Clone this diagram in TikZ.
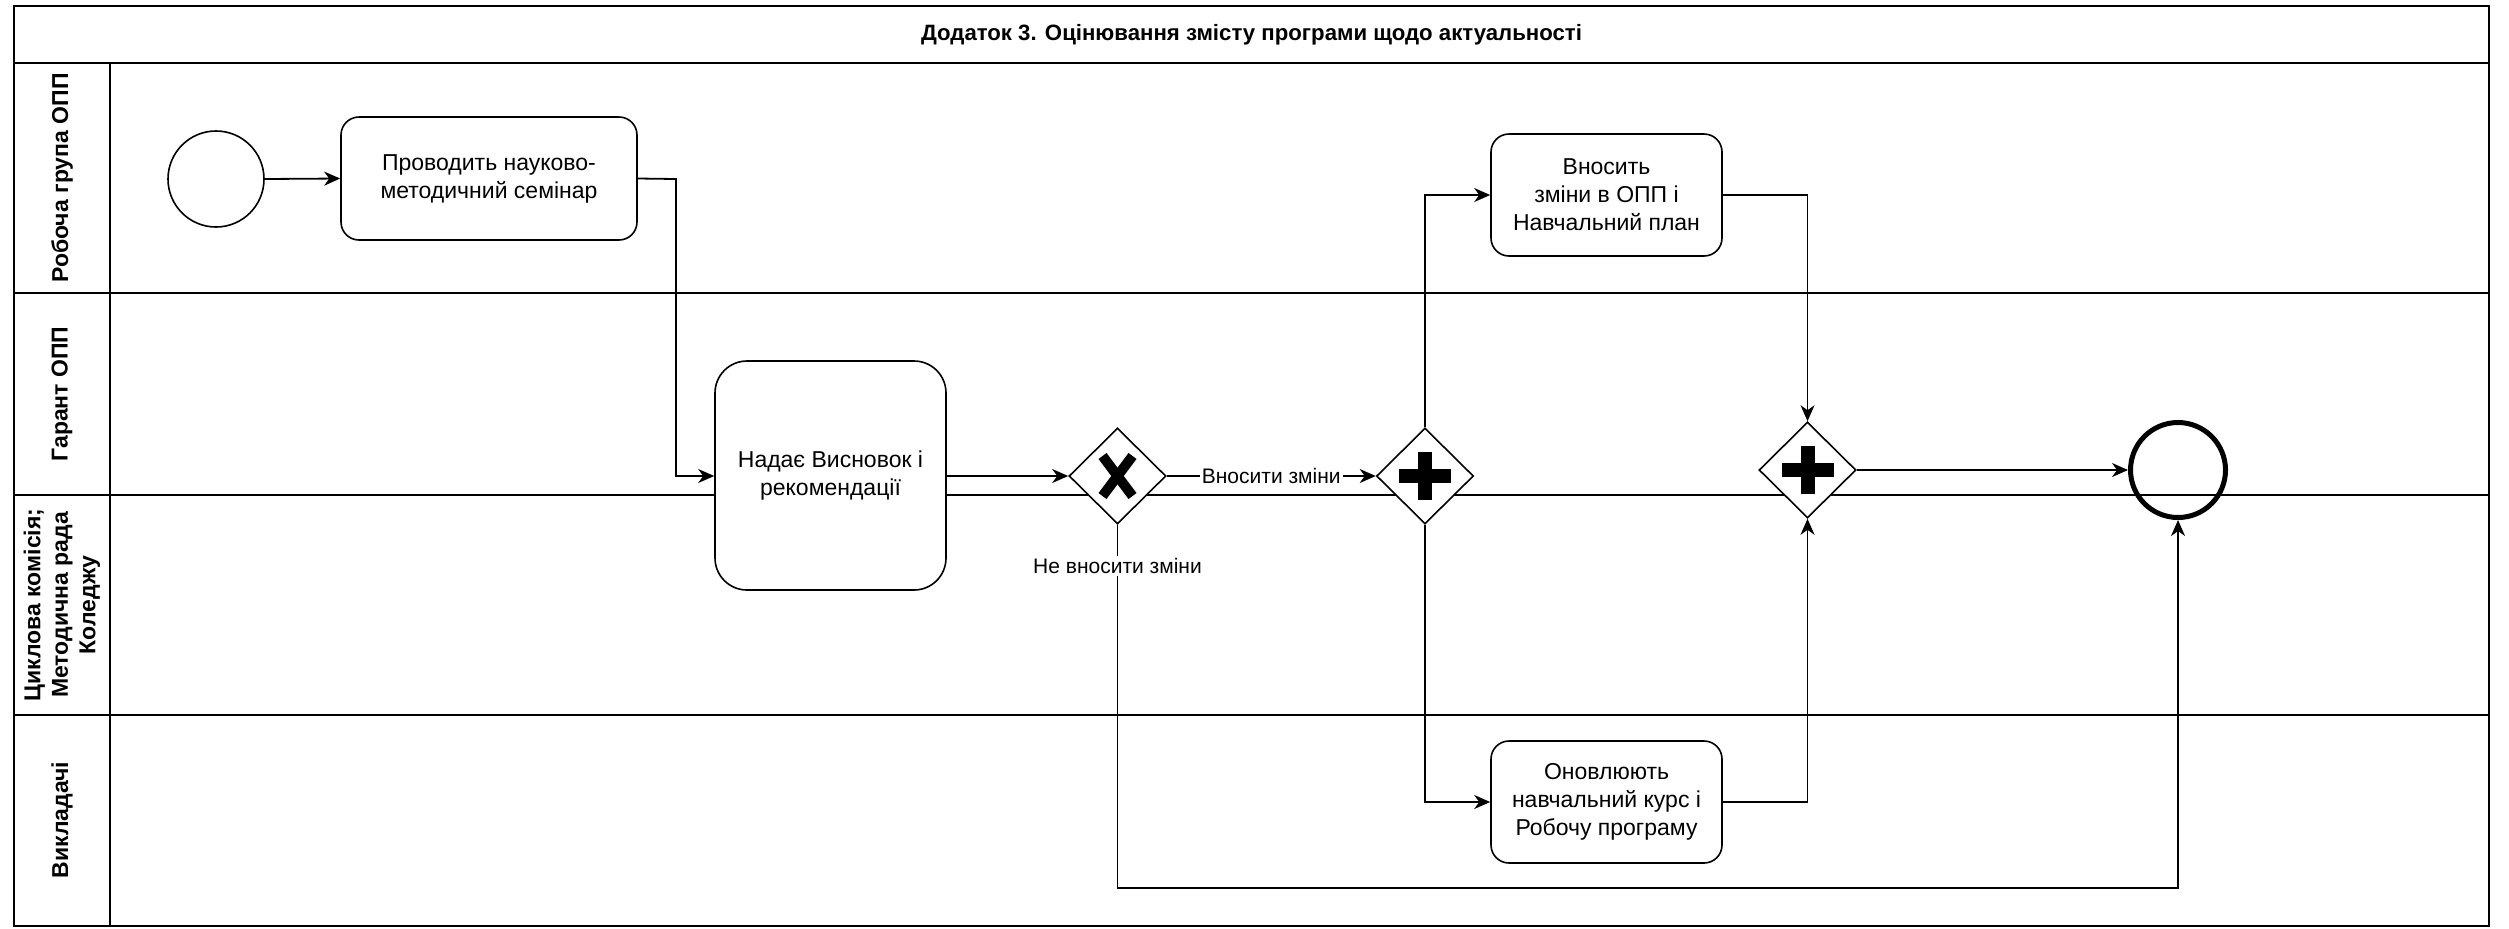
\documentclass[tikz,border=0pt]{standalone}
\usepackage{fontspec}
\setmainfont{Liberation Sans}
\usetikzlibrary{arrows.meta,shapes.geometric}
\tikzset{
  lane/.style={line width=1.1pt},
  thinlane/.style={line width=0.8pt},
  task/.style={draw, fill=white, line width=0.8pt, rounded corners=9pt, align=center,
    font=\fontsize{11.5}{14}\selectfont, inner sep=0pt},
  gw/.style={draw, diamond, line width=0.8pt, minimum width=48.5pt,
    minimum height=48pt, inner sep=0pt, fill=white},
  flow/.style={line width=0.9pt, -{Stealth[length=8pt,width=7pt,inset=2.5pt]}},
  lbl/.style={fill=white, font=\fontsize{10.5}{12}\selectfont, inner sep=1pt},
  lanelbl/.style={rotate=90, font=\bfseries\fontsize{11.5}{13.75}\selectfont, align=center},
  titlelbl/.style={font=\bfseries\fontsize{11.1}{13}\selectfont},
}
\begin{document}
\begin{tikzpicture}[x=0.5pt,y=-0.5pt]
\useasboundingbox (0,0) rectangle (2509,928);
% pool and lanes
\draw[lane] (14,6) rectangle (2489,926);
\draw[lane] (14,63) -- (2489,63);
\draw[lane] (14,293) -- (2489,293);
\draw[lane] (14,495) -- (2489,495);
\draw[lane] (14,715) -- (2489,715);
\draw[thinlane] (110,63) -- (110,926);
\node[titlelbl] (title) at (1251.5,34.5) {Додаток 3. Оцінювання змісту програми щодо актуальності};
\node[lanelbl] (l1) at (62,178) {Робоча група ОПП};
\node[lanelbl] (l2) at (62,394) {Гарант ОПП};
\node[lanelbl] (l3) at (62,605) {Циклова комісія;\\Методична рада\\Коледжу};
\node[lanelbl] (l4) at (62,820) {Викладачі};
% nodes
\node[draw, circle, line width=0.8pt, minimum size=48pt, inner sep=0pt] (s) at (216,179) {};
\node[task, minimum width=148pt, minimum height=61.5pt] (t1) at (489,178.5) {Проводить науково-\\методичний семінар};
\node[task, rounded corners=16pt, minimum width=115.5pt, minimum height=114.5pt] (t2) at (830.5,475.5) {Надає Висновок і\\рекомендації};
\node[gw] (x1) at (1117.5,476) {};
\node[gw] (a1) at (1425,476) {};
\node[gw] (a2) at (1807.5,470) {};
\node[draw, circle, line width=2.5pt, minimum size=47.5pt, inner sep=0pt] (e) at (2178,470) {};
\node[task, minimum width=115.5pt, minimum height=61pt] (t3) at (1606.5,195) {Вносить\\зміни в ОПП і\\Навчальний план};
\node[task, minimum width=115.5pt, minimum height=61pt] (t4) at (1606.5,802) {Оновлюють\\навчальний курс і\\Робочу програму};
% gateway markers
\begin{scope}[shift={(x1)}]
  \draw[line width=5pt] (-15,-20) -- (15,20);
  \draw[line width=5pt] (15,-20) -- (-15,20);
\end{scope}
\begin{scope}[shift={(a1)}]
  \fill (-7,-24) rectangle (7,24);
  \fill (-26,-7) rectangle (26,7);
\end{scope}
\begin{scope}[shift={(a2)}]
  \fill (-7,-24) rectangle (7,24);
  \fill (-26,-7) rectangle (26,7);
\end{scope}
% connectors
\coordinate (c1) at (676,179);
\coordinate (c2) at (1117.5,888);
\draw[flow] (s.east) -- (t1.west);
\draw[flow] (t1.east) -- (c1) |- (t2.west |- x1);
\draw[flow] (t2.east |- x1) -- (x1.west);
\draw[flow] (x1.east) -- node[lbl] (lyes) {Вносити зміни} (a1.west);
\draw[flow] (a1.north) |- (t3.west);
\draw[flow] (a1.south) |- (t4.west);
\draw[flow] (t3.east) -| (a2.north);
\draw[flow] (t4.east) -| (a2.south);
\draw[flow] (a2.east) -- (e.west);
\draw[flow] (x1.south) -- node[lbl, pos=0.113] (lno) {Не вносити зміни} (c2) -| (e.south);
\end{tikzpicture}
\end{document}
